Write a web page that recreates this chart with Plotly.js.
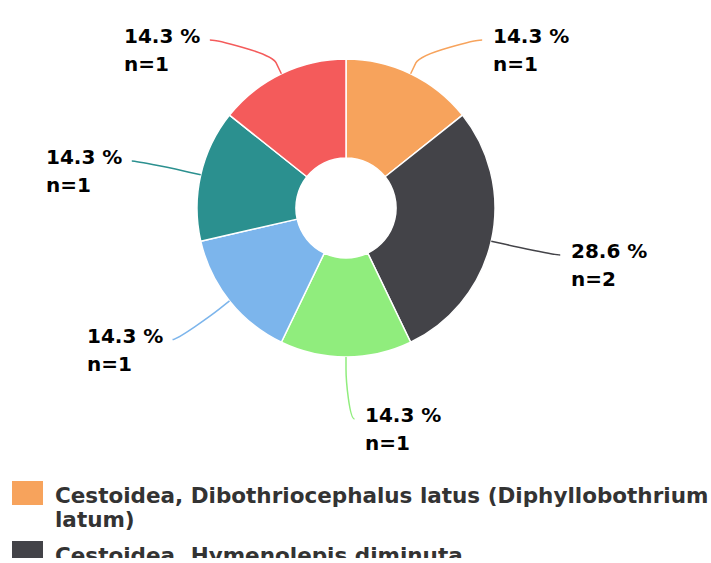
<!DOCTYPE html>
<html>
<head>
<meta charset="utf-8">
<script src="https://cdn.plot.ly/plotly-3.0.1.min.js"></script>
<style>
html,body{margin:0;padding:0;background:#fff;}
#clip{width:711px;height:558px;overflow:hidden;}
#chart{width:711px;height:563px;}
</style>
</head>
<body>
<div id="clip"><div id="chart"></div></div>
<script>
// ---- data ----
const categories = [
  "Cestoidea, Dibothriocephalus latus (Diphyllobothrium latum)",
  "Cestoidea, Hymenolepis diminuta",
  "Category 3",
  "Category 4",
  "Category 5",
  "Category 6"
];
const counts = [1, 2, 1, 1, 1, 1];
const colors = ["#f7a35c", "#434348", "#90ed7d", "#7cb5ec", "#2b908f", "#f45b5b"];

// ---- layout constants (pixels) ----
const W = 711, H = 563;
const CX = 346, CY = 208, R = 149;
const HOLE = 0.336;
const LABEL_R = 211, PAD = 8.5, YMIN = 40, C_OFF = 12, TEXT_GAP = 10;
const LABEL_FONT = {family: "DejaVu Sans", size: 20, weight: "bold", color: "#000000"};
const LEG_FONT = {family: "DejaVu Sans", size: 21.5, weight: "bold", color: "#333333"};

const px = x => x / W;
const py = y => 1 - y / H;

const canvas = document.createElement("canvas");
const ctx = canvas.getContext("2d");
function textW(t, f) { ctx.font = "bold " + f.size + "px '" + f.family + "'"; return ctx.measureText(t).width; }

const total = counts.reduce((a, b) => a + b, 0);

const trace = {
  type: "pie",
  values: counts,
  labels: categories,
  marker: {colors: colors, line: {color: "#ffffff", width: 1.5}},
  hole: HOLE,
  sort: false,
  direction: "clockwise",
  rotation: 0,
  textinfo: "none",
  hoverinfo: "label+value+percent",
  showlegend: false,
  domain: {x: [px(CX - R), px(CX + R)], y: [py(CY + R), py(CY - R)]}
};

const shapes = [];
const annotations = [];
let cum = 0;
counts.forEach((v, i) => {
  const th = (cum + v / 2) / total * 2 * Math.PI;
  cum += v;
  const s = Math.sin(th), c = Math.cos(th);
  const right = th <= Math.PI + 1e-9;
  let ly = CY - LABEL_R * c;
  if (ly < YMIN) ly = YMIN;
  const dy = ly - CY;
  const lx = CX + (right ? 1 : -1) * (Math.sqrt(Math.max(0, LABEL_R * LABEL_R - dy * dy)) + PAD);
  const tx = CX + R * s, ty = CY - R * c;
  const bx = CX + (R + C_OFF) * s, by = CY - (R + C_OFF) * c;
  const c1x = lx + (right ? -5 : 5), c1y = ly;
  const c2x = 2 * bx - tx, c2y = 2 * by - ty;
  const path = "M" + px(lx) + "," + py(ly) +
    " C" + px(c1x) + "," + py(c1y) + " " + px(c2x) + "," + py(c2y) + " " + px(bx) + "," + py(by) +
    " L" + px(tx) + "," + py(ty);
  shapes.push({type: "path", xref: "paper", yref: "paper", path: path,
    line: {color: colors[i], width: 1.5}, layer: "above"});

  const l1 = (v / total * 100).toFixed(1) + " %";
  const l2 = "n=" + v;
  const bw = Math.max(textW(l1, LABEL_FONT), textW(l2, LABEL_FONT));
  const xl = right ? lx + TEXT_GAP : lx - TEXT_GAP - bw;
  [[l1, ly - 4], [l2, ly + 24]].forEach(([t, y]) => {
    annotations.push({xref: "paper", yref: "paper", x: px(xl), y: py(y), xanchor: "left", yanchor: "middle",
      text: t, showarrow: false, font: LABEL_FONT, borderpad: 0});
  });
});

// ---- legend (manual) ----
const LEG_X = 12, LEG_SW = 31, LEG_SH = 24, LEG_TX = 54, LEG_MAXW = 660, LEG_LINE = 24, LEG_ITEM_GAP = 12;
let legY = 481;
categories.forEach((name, i) => {
  const words = name.split(" ");
  const lines = [];
  let cur = "";
  words.forEach(w => {
    const t = cur ? cur + " " + w : w;
    if (cur && textW(t, LEG_FONT) > LEG_MAXW) { lines.push(cur); cur = w; } else cur = t;
  });
  lines.push(cur);
  shapes.push({type: "rect", xref: "paper", yref: "paper", x0: px(LEG_X), x1: px(LEG_X + LEG_SW),
    y0: py(legY), y1: py(legY + LEG_SH), fillcolor: colors[i], line: {width: 0}});
  lines.forEach((t, k) => {
    annotations.push({xref: "paper", yref: "paper", x: px(LEG_TX), y: py(legY + 14 + k * LEG_LINE),
      xanchor: "left", yanchor: "middle", text: t, showarrow: false, font: LEG_FONT, borderpad: 0});
  });
  legY += lines.length * LEG_LINE + LEG_ITEM_GAP;
});

const layout = {
  width: W, height: H,
  margin: {l: 0, r: 0, t: 0, b: 0},
  paper_bgcolor: "#ffffff",
  showlegend: false,
  shapes: shapes,
  annotations: annotations
};

Plotly.newPlot("chart", [trace], layout, {displayModeBar: false, staticPlot: true});
</script>
</body>
</html>
